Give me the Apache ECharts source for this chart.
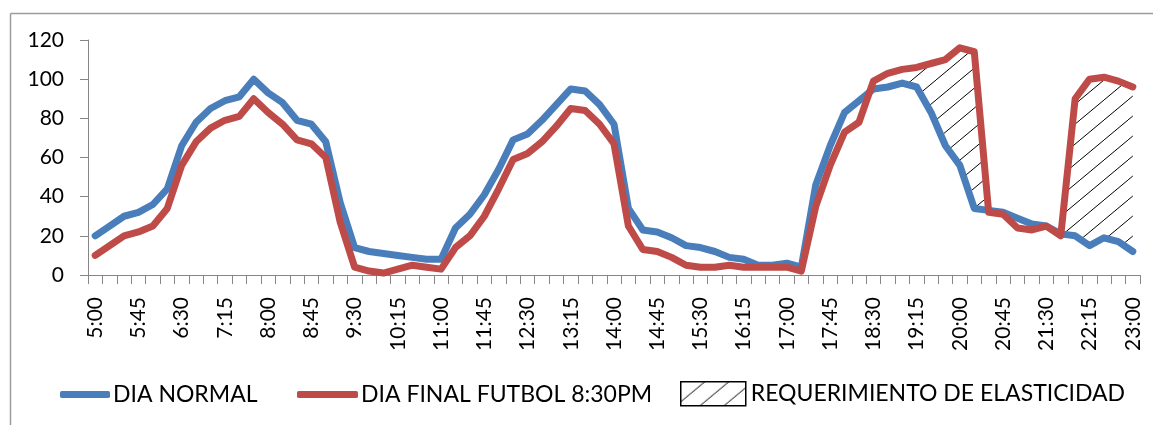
<!DOCTYPE html>
<html>
<head>
<meta charset="utf-8">
<script src="https://cdn.jsdelivr.net/npm/echarts@6/dist/echarts.min.js"></script>
<style>
  html, body { margin: 0; padding: 0; background: #ffffff; }
  #chart { width: 1153px; height: 425px; }
</style>
</head>
<body>
<div id="chart"></div>
<script>
// Quarter-hour time slots, 5:00 to 23:00
const timeSlots = [
  '5:00','5:15','5:30','5:45','6:00','6:15','6:30','6:45','7:00','7:15','7:30','7:45',
  '8:00','8:15','8:30','8:45','9:00','9:15','9:30','9:45','10:00','10:15','10:30','10:45',
  '11:00','11:15','11:30','11:45','12:00','12:15','12:30','12:45','13:00','13:15','13:30','13:45',
  '14:00','14:15','14:30','14:45','15:00','15:15','15:30','15:45','16:00','16:15','16:30','16:45',
  '17:00','17:15','17:30','17:45','18:00','18:15','18:30','18:45','19:00','19:15','19:30','19:45',
  '20:00','20:15','20:30','20:45','21:00','21:15','21:30','21:45','22:00','22:15','22:30','22:45',
  '23:00'
];

// Demand on a normal day
const diaNormal = [
  20, 25, 30, 32, 36, 44, 66, 78, 85, 89, 91, 100,
  93, 88, 79, 77, 68, 37, 14, 12, 11, 10, 9, 8,
  8, 24, 31, 41, 54, 69, 72, 79, 87, 95, 94, 87,
  77, 34, 23, 22, 19, 15, 14, 12, 9, 8, 5, 5,
  6, 4, 46, 66, 83, 89, 95, 96, 98, 96, 83, 66,
  56, 34, 33, 32, 29, 26, 25, 21, 20, 15, 19, 17,
  12
];

// Demand on the football final day (match at 8:30 PM)
const diaFinal = [
  10, 15, 20, 22, 25, 34, 56, 68, 75, 79, 81, 90,
  83, 77, 69, 67, 60, 27, 4, 2, 1, 3, 5, 4,
  3, 14, 20, 30, 44, 59, 62, 68, 76, 85, 84, 77,
  67, 25, 13, 12, 9, 5, 4, 4, 5, 4, 4, 4,
  4, 2, 35, 56, 73, 78, 99, 103, 105, 106, 108, 110,
  116, 114, 32, 31, 24, 23, 25, 20, 90, 100, 101, 99,
  96
];

// Slots where extra capacity (elasticity) is required
const elasticSlots = [
  '19:15','19:30','19:45','20:00','20:15',
  '22:00','22:15','22:30','22:45','23:00'
];

// Y axis scale
const yMin = 0, yMax = 120, yStep = 20;

const NAME_NORMAL = 'DIA NORMAL';
const NAME_FINAL = 'DIA FINAL FUTBOL 8:30PM';
const NAME_ELASTIC = 'REQUERIMIENTO DE ELASTICIDAD';

// Band between the two curves, stacked on top of the normal-day curve
const elasticBand = timeSlots.map((t, i) =>
  elasticSlots.indexOf(t) >= 0 ? Math.max(diaFinal[i] - diaNormal[i], 0) : 0
);

// Diagonal hatch fill
function hatchCanvas() {
  const c = document.createElement('canvas');
  c.width = 24; c.height = 20;
  const g = c.getContext('2d');
  g.strokeStyle = '#000000';
  g.lineWidth = 1;
  g.beginPath();
  g.moveTo(-24, 40); g.lineTo(48, -20);
  g.stroke();
  return c;
}
const hatch = { image: hatchCanvas(), repeat: 'repeat' };

const FONT = 'Lato';
const axisGrey = '#868686';
const blue = '#4A7EBB';
const red = '#BE4B48';
const legendText = { fontFamily: FONT, fontSize: 23, color: '#000000' };

const chart = echarts.init(document.getElementById('chart'), null, { renderer: 'canvas' });

chart.setOption({
  animation: false,
  backgroundColor: '#ffffff',
  grid: { left: 88, right: 13, top: 40, bottom: 150 },
  xAxis: {
    type: 'category',
    data: timeSlots,
    boundaryGap: true,
    axisLine: { show: true, lineStyle: { color: axisGrey, width: 1 } },
    axisTick: { show: true, interval: 0, length: 9, lineStyle: { color: axisGrey } },
    axisLabel: {
      interval: 2, rotate: 90, margin: 22,
      fontFamily: FONT, fontSize: 21, color: '#000000'
    },
    splitLine: { show: false }
  },
  yAxis: {
    type: 'value',
    min: yMin, max: yMax, interval: yStep,
    axisLine: { show: true, lineStyle: { color: axisGrey, width: 1 } },
    axisTick: { show: true, length: 8, lineStyle: { color: axisGrey } },
    axisLabel: { margin: 24, fontFamily: FONT, fontSize: 21, color: '#000000' },
    splitLine: { show: false }
  },
  legend: [
    {
      left: 55, top: 378, padding: 5, itemWidth: 50, itemHeight: 7,
      data: [{ name: NAME_NORMAL, icon: 'roundRect' }],
      textStyle: Object.assign({ padding: [0, 0, 0, -2] }, legendText)
    },
    {
      left: 292, top: 378, padding: 5, itemWidth: 61, itemHeight: 7,
      data: [{ name: NAME_FINAL, icon: 'roundRect' }],
      textStyle: Object.assign({ padding: [0, 0, 0, -2] }, legendText)
    },
    {
      left: 675, top: 376, padding: 5, itemWidth: 65, itemHeight: 24,
      data: [{
        name: NAME_ELASTIC, icon: 'rect',
        itemStyle: { color: hatch, borderColor: '#000000', borderWidth: 1.5 }
      }],
      textStyle: legendText
    }
  ],
  graphic: [
    { type: 'line', shape: { x1: 10.5, y1: 13.5, x2: 1153, y2: 13.5 },
      style: { stroke: '#9c9c9c', lineWidth: 1.5 }, silent: true },
    { type: 'line', shape: { x1: 10.5, y1: 13.5, x2: 10.5, y2: 425 },
      style: { stroke: '#9c9c9c', lineWidth: 1.5 }, silent: true }
  ],
  series: [
    {
      name: 'base',
      type: 'line',
      stack: 'elastic',
      data: diaNormal,
      symbol: 'none',
      lineStyle: { width: 0, opacity: 0 },
      silent: true
    },
    {
      name: NAME_ELASTIC,
      type: 'line',
      stack: 'elastic',
      data: elasticBand,
      symbol: 'none',
      color: '#000000',
      lineStyle: { width: 0, opacity: 0 },
      areaStyle: { color: hatch, opacity: 1 },
      silent: true
    },
    {
      name: NAME_NORMAL,
      type: 'line',
      data: diaNormal,
      symbol: 'none',
      color: blue,
      lineStyle: { width: 7, color: blue, cap: 'round', join: 'round' }
    },
    {
      name: NAME_FINAL,
      type: 'line',
      data: diaFinal,
      symbol: 'none',
      color: red,
      lineStyle: { width: 7, color: red, cap: 'round', join: 'round' }
    }
  ]
});
</script>
</body>
</html>
